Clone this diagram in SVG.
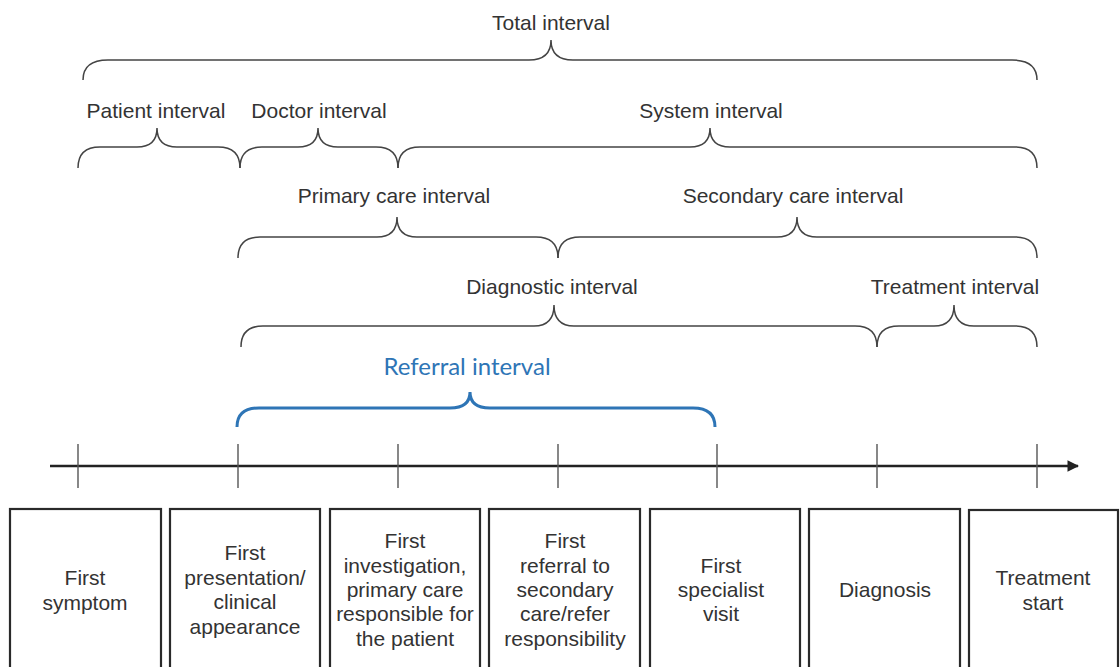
<svg xmlns="http://www.w3.org/2000/svg" width="1120" height="667" viewBox="0 0 1120 667">
  <defs>
    <style>
      .lbl { font-family: "Liberation Sans", Arial, sans-serif; font-size: 21px; fill: #333; text-anchor: middle; }
      .blue { font-family: Lato, "Open Sans", sans-serif; font-size: 24px; fill: #2E75B6; text-anchor: middle; }
      .brace { fill: none; stroke: #444; stroke-width: 1.5; }
      .brace-blue { fill: none; stroke: #2E75B6; stroke-width: 3; }
      .tick { stroke: #555; stroke-width: 1.4; }
      .axis { stroke: #222; stroke-width: 2.6; fill: none; }
      .box { fill: #fff; stroke: #2a2a2a; stroke-width: 2.2; }
    </style>
    <marker id="arrow" viewBox="0 0 10 10" refX="9" refY="5" markerWidth="4.5" markerHeight="4.5" orient="auto" markerUnits="strokeWidth">
      <path d="M0,0 L10,5 L0,10 z" fill="#222"/>
    </marker>
  </defs>
  <rect width="1120" height="667" fill="#fff"/>

  <!-- interval braces -->
  <g id="intervals">
    <g id="total-interval">
      <path class="brace" d="M83,80 Q83,60 108,60 L529,60 Q551,60 551,40 Q551,60 573,60 L1012,60 Q1037,60 1037,80"/>
      <text class="lbl" x="551" y="30">Total interval</text>
    </g>
    <g id="patient-interval">
      <path class="brace" d="M78,168 Q78,147 100,147 L137,147 Q157,147 157,128 Q157,147 177,147 L218,147 Q240,147 240,168"/>
      <text class="lbl" x="156" y="118">Patient interval</text>
    </g>
    <g id="doctor-interval">
      <path class="brace" d="M240,168 Q240,147 262,147 L298,147 Q318,147 318,128 Q318,147 338,147 L376,147 Q398,147 398,168"/>
      <text class="lbl" x="319" y="118">Doctor interval</text>
    </g>
    <g id="system-interval">
      <path class="brace" d="M398,168 Q398,147 420,147 L690,147 Q710,147 710,128 Q710,147 730,147 L1015,147 Q1037,147 1037,168"/>
      <text class="lbl" x="711" y="118">System interval</text>
    </g>
    <g id="primary-care-interval">
      <path class="brace" d="M238,258 Q238,237 260,237 L377,237 Q397,237 397,217 Q397,237 417,237 L536,237 Q558,237 558,258"/>
      <text class="lbl" x="394" y="203">Primary care interval</text>
    </g>
    <g id="secondary-care-interval">
      <path class="brace" d="M558,258 Q558,237 580,237 L777,237 Q797,237 797,217 Q797,237 817,237 L1015,237 Q1037,237 1037,258"/>
      <text class="lbl" x="793" y="203">Secondary care interval</text>
    </g>
    <g id="diagnostic-interval">
      <path class="brace" d="M241,347 Q241,326 263,326 L534,326 Q554,326 554,305 Q554,326 574,326 L855,326 Q877,326 877,347"/>
      <text class="lbl" x="552" y="294">Diagnostic interval</text>
    </g>
    <g id="treatment-interval">
      <path class="brace" d="M877,347 Q877,326 899,326 L934,326 Q954,326 954,305 Q954,326 974,326 L1015,326 Q1037,326 1037,347"/>
      <text class="lbl" x="955" y="294">Treatment interval</text>
    </g>
    <g id="referral-interval">
      <path class="brace-blue" d="M237,427 Q237,408 259,408 L450,408 Q470,408 470,392 Q470,408 490,408 L693,408 Q715,408 715,427"/>
      <text class="blue" x="467" y="375">Referral interval</text>
    </g>
  </g>

  <!-- time axis with milestone ticks -->
  <g id="connectors">
    <line class="axis" x1="50" y1="466" x2="1078" y2="466" marker-end="url(#arrow)"/>
    <line class="tick" x1="78" y1="444" x2="78" y2="488"/>
    <line class="tick" x1="238" y1="444" x2="238" y2="488"/>
    <line class="tick" x1="398" y1="444" x2="398" y2="488"/>
    <line class="tick" x1="558" y1="444" x2="558" y2="488"/>
    <line class="tick" x1="717" y1="444" x2="717" y2="488"/>
    <line class="tick" x1="877" y1="444" x2="877" y2="488"/>
    <line class="tick" x1="1037" y1="444" x2="1037" y2="488"/>
  </g>

  <!-- milestone boxes -->
  <g id="first-symptom">
    <rect class="box" x="10" y="509" width="151" height="200"/>
    <text class="lbl" x="85" y="585">First</text>
    <text class="lbl" x="85" y="610">symptom</text>
  </g>
  <g id="first-presentation">
    <rect class="box" x="170" y="509" width="150" height="200"/>
    <text class="lbl" x="245" y="560">First</text>
    <text class="lbl" x="245" y="585">presentation/</text>
    <text class="lbl" x="245" y="609">clinical</text>
    <text class="lbl" x="245" y="634">appearance</text>
  </g>
  <g id="first-investigation">
    <rect class="box" x="330" y="509" width="150" height="200"/>
    <text class="lbl" x="405" y="548">First</text>
    <text class="lbl" x="405" y="573">investigation,</text>
    <text class="lbl" x="405" y="597">primary care</text>
    <text class="lbl" x="405" y="621">responsible for</text>
    <text class="lbl" x="405" y="646">the patient</text>
  </g>
  <g id="first-referral">
    <rect class="box" x="489" y="509" width="151" height="200"/>
    <text class="lbl" x="565" y="548">First</text>
    <text class="lbl" x="565" y="573">referral to</text>
    <text class="lbl" x="565" y="597">secondary</text>
    <text class="lbl" x="565" y="621">care/refer</text>
    <text class="lbl" x="565" y="646">responsibility</text>
  </g>
  <g id="first-specialist-visit">
    <rect class="box" x="650" y="509" width="150" height="200"/>
    <text class="lbl" x="721" y="573">First</text>
    <text class="lbl" x="721" y="597">specialist</text>
    <text class="lbl" x="721" y="621">visit</text>
  </g>
  <g id="diagnosis">
    <rect class="box" x="809" y="509" width="151" height="200"/>
    <text class="lbl" x="885" y="597">Diagnosis</text>
  </g>
  <g id="treatment-start">
    <rect class="box" x="969" y="510" width="149" height="200"/>
    <text class="lbl" x="1043" y="585">Treatment</text>
    <text class="lbl" x="1043" y="610">start</text>
  </g>
</svg>
